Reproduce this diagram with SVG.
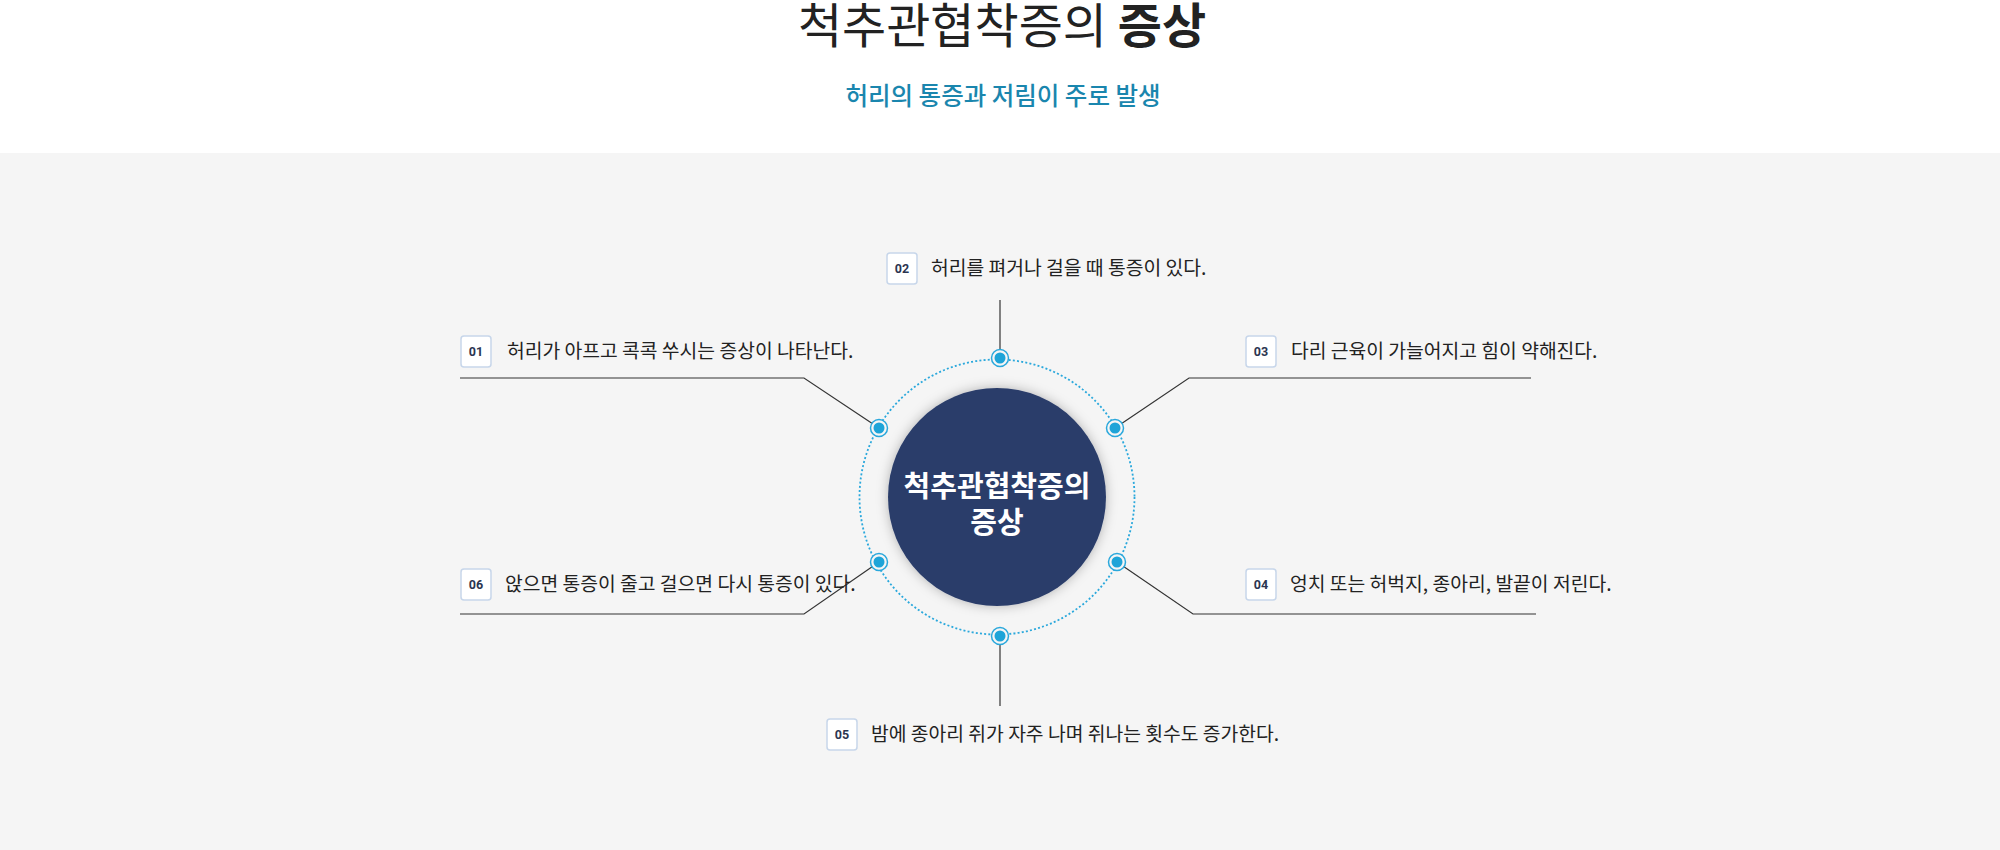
<svg xmlns="http://www.w3.org/2000/svg" width="2000" height="850" viewBox="0 0 2000 850">
<style>
.ttl{font-family:"Noto Sans CJK KR","Noto Sans",sans-serif;font-size:48px;fill:#222}
.sub{font-family:"Noto Sans CJK KR","Noto Sans",sans-serif;font-size:24.5px;font-weight:500;fill:#1a86ae}
.lbl{font-family:"Noto Sans CJK KR","Noto Sans",sans-serif;font-size:19.3px;fill:#222}
.num{font-family:Roboto,"Noto Sans",sans-serif;font-size:12.5px;font-weight:700;fill:#2b3550;text-anchor:middle}
.box{fill:#fff;stroke:#c7d6ea;stroke-width:1.5}
.ctr{font-family:"Noto Sans CJK KR","Noto Sans",sans-serif;font-size:29px;font-weight:700;fill:#fff;text-anchor:middle}
.con{fill:none;stroke:#333;stroke-width:1.2}
.ring{fill:#f5f5f5;stroke:#2aa8dc;stroke-width:1.5}
.dot{fill:#1ea4d8}
</style>
<defs>
<filter id="sh" x="-30%" y="-30%" width="160%" height="160%">
<feDropShadow dx="0" dy="0" stdDeviation="6" flood-color="#000" flood-opacity="0.28"/>
</filter>
</defs>
<rect x="0" y="0" width="2000" height="850" fill="#fff"/>
<rect x="0" y="153" width="2000" height="697" fill="#f5f5f5"/>
<g id="title">
<text class="ttl" x="1002" y="43" text-anchor="middle">척추관협착증의 <tspan font-weight="700">증상</tspan></text>
<text class="sub" x="1003" y="105" text-anchor="middle">허리의 통증과 저림이 주로 발생</text>
</g>
<g id="connectors">
<polyline class="con" points="460,378 804,378 879,428"/>
<polyline class="con" points="1531,378 1189,378 1115,428"/>
<polyline class="con" points="1536,614 1193,614 1117,562"/>
<polyline class="con" points="460,614 804,614 879,562"/>
<line class="con" x1="1000" y1="300" x2="1000" y2="357"/>
<line class="con" x1="1000" y1="636" x2="1000" y2="706"/>
</g>
<g id="center">
<circle cx="997" cy="497" r="137.5" fill="none" stroke="#2aa8dc" stroke-width="1.8" stroke-dasharray="2 2.2"/>
<circle cx="997" cy="497" r="109" fill="#2c3e6a" filter="url(#sh)"/>
<text class="ctr" x="997" y="497">척추관협착증의</text>
<text class="ctr" x="997" y="533">증상</text>
</g>
<g id="dots">
<circle class="ring" cx="1000" cy="358" r="8.5"/><circle class="dot" cx="1000" cy="358" r="5.5"/>
<circle class="ring" cx="879" cy="428" r="8.5"/><circle class="dot" cx="879" cy="428" r="5.5"/>
<circle class="ring" cx="1115" cy="428" r="8.5"/><circle class="dot" cx="1115" cy="428" r="5.5"/>
<circle class="ring" cx="879" cy="562" r="8.5"/><circle class="dot" cx="879" cy="562" r="5.5"/>
<circle class="ring" cx="1117" cy="562" r="8.5"/><circle class="dot" cx="1117" cy="562" r="5.5"/>
<circle class="ring" cx="1000" cy="636" r="8.5"/><circle class="dot" cx="1000" cy="636" r="5.5"/>
</g>
<g id="item01">
<rect class="box" x="461" y="336" width="30" height="31" rx="3"/>
<text class="num" x="476" y="356">01</text>
<text class="lbl" x="507" y="358">허리가 아프고 콕콕 쑤시는 증상이 나타난다.</text>
</g>
<g id="item02">
<rect class="box" x="887" y="253" width="30" height="31" rx="3"/>
<text class="num" x="902" y="273">02</text>
<text class="lbl" x="931" y="275">허리를 펴거나 걸을 때 통증이 있다.</text>
</g>
<g id="item03">
<rect class="box" x="1246" y="336" width="30" height="31" rx="3"/>
<text class="num" x="1261" y="356">03</text>
<text class="lbl" x="1291" y="358">다리 근육이 가늘어지고 힘이 약해진다.</text>
</g>
<g id="item04">
<rect class="box" x="1246" y="569" width="30" height="31" rx="3"/>
<text class="num" x="1261" y="589">04</text>
<text class="lbl" x="1290" y="591">엉치 또는 허벅지, 종아리, 발끝이 저린다.</text>
</g>
<g id="item05">
<rect class="box" x="827" y="719" width="30" height="31" rx="3"/>
<text class="num" x="842" y="739">05</text>
<text class="lbl" x="871" y="741">밤에 종아리 쥐가 자주 나며 쥐나는 횟수도 증가한다.</text>
</g>
<g id="item06">
<rect class="box" x="461" y="569" width="30" height="31" rx="3"/>
<text class="num" x="476" y="589">06</text>
<text class="lbl" x="505" y="591">앉으면 통증이 줄고 걸으면 다시 통증이 있다.</text>
</g>
</svg>
